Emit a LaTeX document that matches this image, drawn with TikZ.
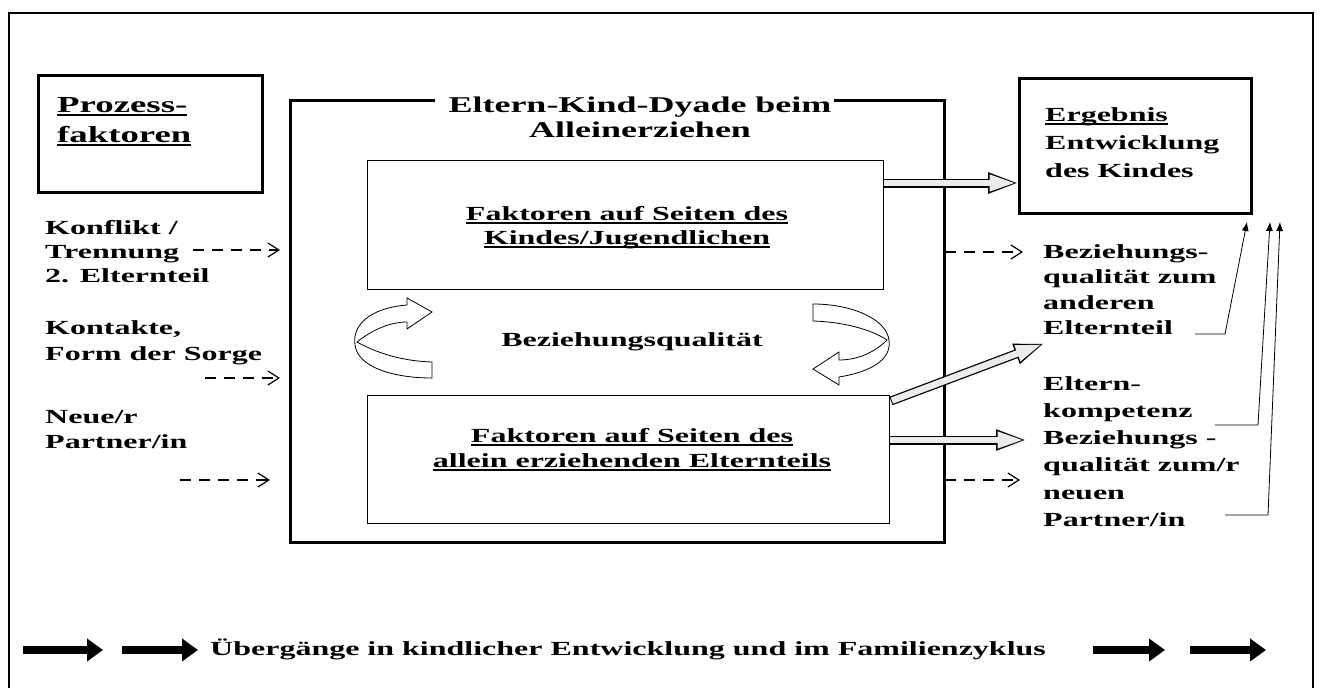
\documentclass[tikz,border=0pt]{standalone}
\usepackage{fontspec}
\setmainfont{Liberation Serif}[FakeStretch=1.6]
\usetikzlibrary{arrows.meta,calc}

\newcommand{\undl}[1]{\setbox0\hbox{#1}\leavevmode\rlap{\rule[-3.5pt]{\wd0}{1.6pt}}\box0}

\tikzset{
	boxthick/.style={draw, line width=3pt, inner sep=0pt},
	boxthin/.style={draw, line width=1pt, inner sep=0pt},
	lbl/.style={font=\fontsize{20}{#1}\selectfont\bfseries, align=left, anchor=base west, inner sep=0pt},
	ctr/.style={font=\fontsize{20}{#1}\selectfont\bfseries, align=center, anchor=base, inner sep=0pt},
	dasharrow/.style={line width=1.2pt, dash pattern=on 11pt off 8pt, -{Straight Barb[length=11pt,width=14pt]}},
	hollowout/.style={line width=9pt, -{Triangle[length=31pt,width=19pt]}},
	hollowin/.style={line width=6.5pt, draw=gray!15, -{Triangle[length=27pt,width=15pt]}, shorten >=2.5pt, shorten <=1pt},
	thinarrow/.style={line width=0.8pt, -{Latex[length=9pt,width=7pt]}},
	bigarrow/.style={line width=8pt, -{Triangle[length=16pt,width=22pt]}},
	turnarrow/.style={draw, line width=0.8pt, fill=white},
}

\begin{document}
\begin{tikzpicture}[x=1pt,y=-1pt]
	\useasboundingbox (0,0) rectangle (1320,688);
	\draw[line width=1.5pt] (9,688) -- (9,13) -- (1313,13) -- (1313,688);

	\node[boxthick, minimum width=224pt, minimum height=117pt] (proz) at (150,133.5) {};
	\node[lbl=30, font=\fontsize{23}{30}\selectfont\bfseries] (prozt) at (57,142) {\undl{Prozess-}\\\undl{faktoren}};

	\node[boxthick, minimum width=232pt, minimum height=135pt] (erg) at (1135,145.5) {};
	\node[lbl=28] (ergt) at (1045,177) {\undl{Ergebnis}\\Entwicklung\\des Kindes};

	\node[minimum width=653pt, minimum height=441pt, inner sep=0pt] (dyad) at (617.5,321.5) {};
	\node[ctr=25, font=\fontsize{22.5}{25}\selectfont\bfseries] (dyadt) at (640,137) {Eltern-Kind-Dyade beim\\Alleinerziehen};
	\draw[line width=3pt] ($(dyadt.west |- dyad.north)+(-13,0)$) -- (dyad.north west) -- (dyad.south west)
		-- (dyad.south east) -- (dyad.north east) -- ($(dyadt.east |- dyad.north)+(2,0)$);

	\node[boxthin, minimum width=516pt, minimum height=129pt] (kind) at (625,224.5) {};
	\node[ctr=24.5] (kindt) at (627,244.5) {\undl{Faktoren auf Seiten des}\\\undl{Kindes/Jugendlichen}};

	\node[boxthin, minimum width=522pt, minimum height=128pt] (elt) at (628,459) {};
	\node[ctr=25] (eltt) at (632,467) {\undl{Faktoren auf Seiten des}\\\undl{allein erziehenden Elternteils}};

	\node[ctr=25] (bq) at (632,346) {Beziehungsqualität};

	\node[lbl=24] (konf) at (45,282) {Konflikt /\\Trennung\\2. Elternteil};
	\node[lbl=26] (kont) at (45,360) {Kontakte,\\Form der Sorge};
	\node[lbl=25] (neu) at (45,448) {Neue/r\\Partner/in};

	\node[lbl=25.5] (bzand) at (1043,334.5) {Beziehungs-\\qualität zum\\anderen\\Elternteil};
	\node[lbl=27.3] (komp) at (1043,526.5) {Eltern-\\kompetenz\\Beziehungs -\\qualität zum/r\\neuen\\Partner/in};

	\node[lbl=20] (uebg) at (210,655) {Übergänge in kindlicher Entwicklung und im Familienzyklus};

	\coordinate (a1) at (193,250);
	\coordinate (a2) at (280,250);
	\coordinate (b1) at (205,378);
	\coordinate (b2) at (280,378);
	\coordinate (c1) at (180,480);
	\coordinate (c2) at (270,480);
	\coordinate (r1) at (945,252);
	\coordinate (r2) at (1023,252);
	\coordinate (s1) at (945,480);
	\coordinate (s2) at (1020,480);

	\draw[dasharrow] (a1) -- (a2);
	\draw[dasharrow] (b1) -- (b2);
	\draw[dasharrow] (c1) -- (c2);
	\draw[dasharrow] (r1) -- (r2);
	\draw[dasharrow] (s1) -- (s2);

	\coordinate (h1) at (883,183);
	\coordinate (h2) at (1019,183);
	\coordinate (h3) at (891,401);
	\coordinate (h4) at (1045,343);
	\coordinate (h5) at (889,440);
	\coordinate (h6) at (1027,440);

	\foreach \p/\q in {h1/h2, h3/h4, h5/h6}{
			\draw[hollowout] (\p) -- (\q);
			\draw[hollowin] (\p) -- (\q);
		}

	\coordinate (e1) at (1195,334);
	\coordinate (k1) at (1225,334);
	\coordinate (t1) at (1247,222);
	\coordinate (e2) at (1215,425);
	\coordinate (k2) at (1258,425);
	\coordinate (t2) at (1270,222);
	\coordinate (e3) at (1225,515);
	\coordinate (k3) at (1268,515);
	\coordinate (t3) at (1280,222);

	\draw[thinarrow] (e1) -- (k1) -- (t1);
	\draw[thinarrow] (e2) -- (k2) -- (t2);
	\draw[thinarrow] (e3) -- (k3) -- (t3);

	\draw[turnarrow] (432,378) -- (432,362) .. controls (400,361) and (375,352) .. (357,342)
		.. controls (372,330) and (390,322) .. (407,322) -- (407,329) -- (432,312) -- (407,298) -- (407,305)
		.. controls (370,308) and (352,325) .. (355,345) .. controls (358,368) and (395,378) .. (432,378) -- cycle;
	\draw[turnarrow] (813,304) -- (813,321) .. controls (845,322) and (872,330) .. (887,340)
		.. controls (875,352) and (858,360) .. (839,360) -- (839,352) -- (813,369) -- (839,385) -- (839,377)
		.. controls (870,372) and (892,360) .. (889,340) .. controls (886,318) and (850,304) .. (813,304) -- cycle;

	\foreach \a/\b in {23/103, 122/198, 1093/1165, 1190/1266}{
			\draw[bigarrow] (\a,650) -- (\b,650);
		}
\end{tikzpicture}
\end{document}
